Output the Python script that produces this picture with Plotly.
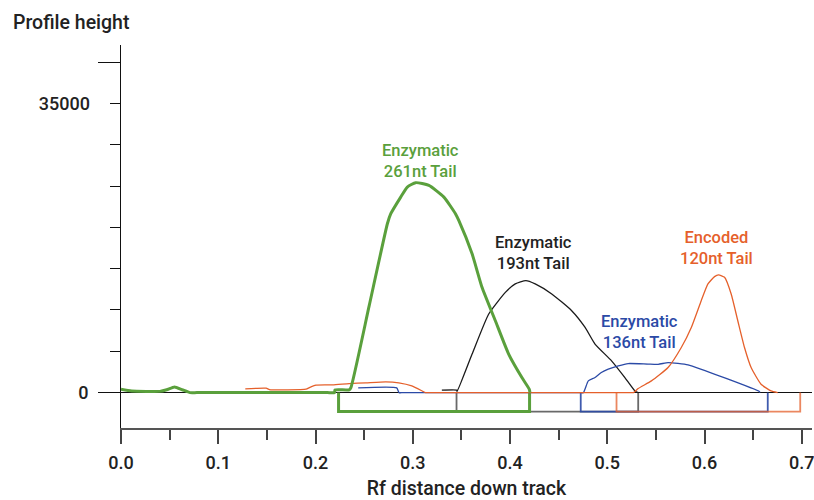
import plotly.graph_objects as go

# ---------------- data ----------------
GREEN_RF = [0.0, 0.011, 0.04, 0.047, 0.055, 0.063, 0.071, 0.078, 0.212, 0.2196, 0.2200, 0.2346, 0.2364,
            0.2552, 0.2739, 0.2774, 0.2876, 0.2944, 0.3030, 0.3166, 0.3320, 0.3439,
            0.3473, 0.361, 0.3712, 0.3849, 0.3986, 0.4122, 0.4198, 0.4205]
GREEN_H = [400, 200, 150, 350, 690, 350, 0, 0, 0, 0, 330, 330, 607,
           10522, 20437, 21651, 23665, 24879, 25413, 25085, 23665, 21651,
           20838, 16797, 12743, 8701, 4660, 1820, 413, 0]

BLACK_RF = [0.3299, 0.3453, 0.3456, 0.361, 0.3781, 0.3952, 0.4054, 0.4163, 0.4259, 0.4429,
            0.4634, 0.4772, 0.4874, 0.5044, 0.5181, 0.5284, 0.5318]
BLACK_H = [300, 300, 121, 4660, 9515, 12136, 13156, 13556, 13156, 11942,
           9915, 7888, 5874, 3847, 1820, 206, 0]

BLUE_RF = [0.2439, 0.2835, 0.2859, 0.2900, 0.4710, 0.4754, 0.4805, 0.4874, 0.4939, 0.501, 0.5113, 0.5215,
           0.542, 0.5523, 0.5625, 0.5727, 0.583, 0.6565, 0.657]
BLUE_H = [570, 570, 0, 0, 0, 0, 1420, 1820, 2427, 2840, 3240, 3519,
          3447, 3420, 3640, 3543, 3362, 120, 0]

ORANGE_RF = [0.1278, 0.1493, 0.1527, 0.1903, 0.1937, 0.2005, 0.2175, 0.2346, 0.2517, 0.2722,
             0.2856, 0.299, 0.3097, 0.313, 0.318, 0.522, 0.527, 0.5318, 0.5454, 0.5625, 0.5761, 0.5864,
             0.5966, 0.6035, 0.6103, 0.6144, 0.6206, 0.6274, 0.6342, 0.6411, 0.6479, 0.6581,
             0.6683, 0.6752]
ORANGE_H = [450, 530, 360, 410, 610, 900, 930, 1090, 1180, 1300,
            1180, 810, 200, 0, 0, 0, 0, 500, 1420, 3034, 5461, 7888,
            11129, 13156, 14042, 14248, 13956, 11942, 8701, 5461, 3034, 1019,
            206, 0]

# integration regions (Rf start / end) for each lane
BOX_NAMES = ["black", "blue", "orange", "green"]
BOX_START = [0.3450, 0.4727, 0.5095, 0.2237]
BOX_END = [0.5318, 0.6650, 0.6984, 0.4201]
BOX_DEPTH = -2300

LABELS = ["Enzymatic<br>261nt Tail", "Enzymatic<br>193nt Tail",
          "Enzymatic<br>136nt Tail", "Encoded<br>120nt Tail"]
LABEL_RF = [0.3084, 0.4240, 0.5331, 0.6120]
LABEL_H = [27998, 16955, 7282, 17525]

X_TICKS = [0.0, 0.1, 0.2, 0.3, 0.4, 0.5, 0.6, 0.7]
X_TICK_TEXT = ["0.0", "0.1", "0.2", "0.3", "0.4", "0.5", "0.6", "0.7"]

# ---------------- style ----------------
GREEN = "#5aa03c"
BLACK = "#1a1a1a"
BLUE = "#2b4aa6"
ORANGE = "#e5602b"
COLORS = {"green": GREEN, "black": BLACK, "blue": BLUE, "orange": ORANGE}
BOX_OPACITY = {"green": 1.0, "black": 0.65, "blue": 0.9, "orange": 0.75}
FONT = "Roboto, Liberation Sans, Arial, sans-serif"
W = 500

fig = go.Figure()

# boxes below baseline
for name, s, e in zip(BOX_NAMES, BOX_START, BOX_END):
    w = 3 if name == "green" else 1.8
    fig.add_trace(go.Scatter(x=[s, s, e, e], y=[0, BOX_DEPTH, BOX_DEPTH, 0], mode="lines",
                             line=dict(color=COLORS[name], width=w), opacity=BOX_OPACITY[name],
                             hoverinfo="skip"))

# profiles
SM = dict(shape="spline", smoothing=0.5)
fig.add_trace(go.Scatter(x=BLACK_RF, y=BLACK_H, mode="lines", line=dict(color=BLACK, width=1.3, **SM)))
fig.add_trace(go.Scatter(x=BLUE_RF, y=BLUE_H, mode="lines", line=dict(color=BLUE, width=1.3, **SM)))
fig.add_trace(go.Scatter(x=ORANGE_RF, y=ORANGE_H, mode="lines", line=dict(color=ORANGE, width=1.3, **SM)))
fig.add_trace(go.Scatter(x=GREEN_RF, y=GREEN_H, mode="lines", line=dict(color=GREEN, width=3, **SM)))
# dummy trace for secondary label axis
fig.add_trace(go.Scatter(x=[None], y=[None], yaxis="y2", mode="lines", hoverinfo="skip"))

label_colors = [GREEN, "#222", BLUE, ORANGE]
for t, x, y, c in zip(LABELS, LABEL_RF, LABEL_H, label_colors):
    fig.add_annotation(x=x, y=y, text=t, showarrow=False, xanchor="center", yanchor="middle",
                       font=dict(family=FONT, size=16.5, color=c, weight=W))

fig.add_annotation(xref="paper", yref="paper", x=-0.1587, y=1.0584, text="Profile height",
                   showarrow=False, xanchor="left", yanchor="middle",
                   font=dict(family=FONT, size=19.5, color="#222", weight=W))

YR = [-4284, 42076]
fig.update_layout(
    width=814, height=500,
    margin=dict(l=121, r=0, t=45, b=72),
    plot_bgcolor="white", paper_bgcolor="white",
    showlegend=False,
    font=dict(family=FONT, size=18, color="#222", weight=W),
    xaxis=dict(range=[0, 0.7105], showline=True, linecolor="#555", linewidth=2,
               ticks="outside", ticklen=14, tickwidth=1.5, tickcolor="#444",
               tickmode="array", tickvals=X_TICKS, ticktext=X_TICK_TEXT,
               ticklabeloverflow="allow",
               minor=dict(dtick=0.05, tick0=0, ticks="outside", ticklen=10, tickwidth=1.5,
                          tickcolor="#444"),
               showgrid=False, zeroline=False, ticklabelstandoff=3,
               title=dict(text="Rf distance down track", font=dict(size=19.5, weight=W), standoff=11)),
    yaxis=dict(range=YR, showline=True, linecolor="#111", linewidth=1,
               ticks="outside", ticklen=22, tickwidth=1, tickcolor="#111",
               tickmode="array", tickvals=[0, 40000], ticktext=["0", ""],
               minor=dict(dtick=5000, tick0=0, ticks="outside", ticklen=10, tickwidth=1,
                          tickcolor="#111"),
               showgrid=False, zeroline=True, zerolinecolor="#111", zerolinewidth=1,
               ticklabelstandoff=6),
    yaxis2=dict(range=YR, overlaying="y", side="left", anchor="x", showline=False,
                ticks="", tickmode="array", tickvals=[35000], ticktext=["35000"],
                showgrid=False, zeroline=False, ticklabelstandoff=30),
)

fig.write_html("out.html", config={"displayModeBar": False},
               post_script="document.body.style.margin='0';")
